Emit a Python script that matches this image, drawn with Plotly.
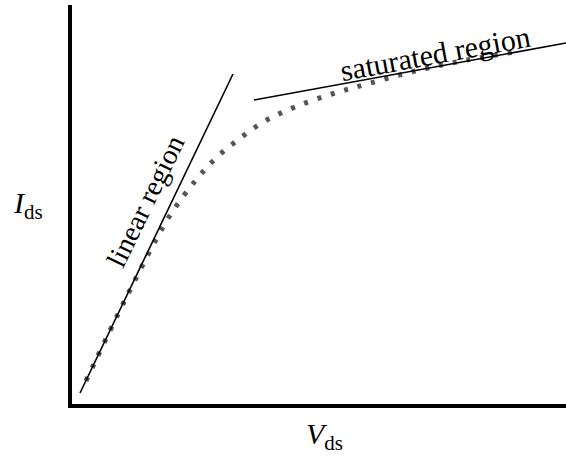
import plotly.graph_objects as go

# Transistor characteristic (arbitrary units)
curve_vds = [15, 56, 98, 125, 145, 168, 194, 224, 261, 296, 344, 396, 444]
curve_ids = [21, 106, 185, 222, 244, 263, 281, 295, 308, 318, 331, 342, 350]

linear_vds = [9, 162]
linear_ids = [9, 328]

sat_vds = [183, 495]
sat_ids = [302, 359]

FONT = "Liberation Serif"

fig = go.Figure()
fig.add_trace(go.Scatter(x=curve_vds, y=curve_ids, mode="lines",
                         line=dict(color="#555555", width=5, dash="4px,10px", shape="spline"),
                         hoverinfo="skip"))
fig.add_trace(go.Scatter(x=linear_vds, y=linear_ids, mode="lines",
                         line=dict(color="black", width=1.6), hoverinfo="skip"))
fig.add_trace(go.Scatter(x=sat_vds, y=sat_ids, mode="lines",
                         line=dict(color="black", width=1.6), hoverinfo="skip"))

fig.add_annotation(x=74, y=201, text="linear region", showarrow=False, textangle=-64,
                   font=dict(family=FONT, size=28, color="black"))
fig.add_annotation(x=364, y=349, text="saturated region", showarrow=False, textangle=-10.4,
                   font=dict(family=FONT, size=30, color="black"))
# axis labels in paper coordinates (plot area: x 72..566 px, y 5..404 px)
fig.add_annotation(xref="paper", yref="paper", x=(28 - 72) / 494, y=(404 - 205) / 399,
                   xanchor="center", yanchor="middle",
                   text="<i>I</i><sub>ds</sub>", showarrow=False,
                   font=dict(family=FONT, size=30, color="black"))
fig.add_annotation(xref="paper", yref="paper", x=(324 - 72) / 494, y=(404 - 436) / 399,
                   xanchor="center", yanchor="middle",
                   text="<i>V</i><sub>ds</sub>", showarrow=False,
                   font=dict(family=FONT, size=30, color="black"))

fig.update_layout(
    width=566, height=462,
    margin=dict(l=72, r=0, t=5, b=58),
    paper_bgcolor="white", plot_bgcolor="white",
    showlegend=False,
    xaxis=dict(range=[1, 495], showline=True, linecolor="black", linewidth=3.5,
               showgrid=False, zeroline=False, showticklabels=False, ticks=""),
    yaxis=dict(range=[-2, 397], showline=True, linecolor="black", linewidth=3.5,
               showgrid=False, zeroline=False, showticklabels=False, ticks=""),
)

fig.write_html("out.html", config={"displayModeBar": False},
               post_script="document.body.style.margin='0';document.body.style.overflow='hidden';")
